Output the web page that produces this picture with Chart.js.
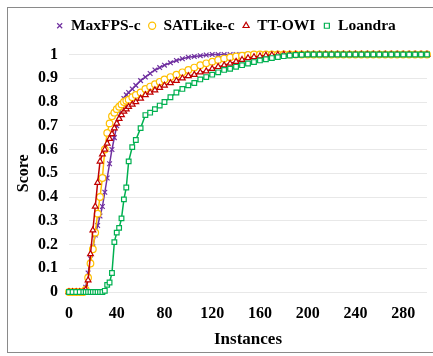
<!DOCTYPE html>
<html>
<head>
<meta charset="UTF-8">
<title>Score vs Instances</title>
<script src="https://cdn.jsdelivr.net/npm/chart.js"></script>
<style>
  body { margin: 0; background: #fff; }
  #wrap { position: relative; width: 433px; height: 356px; }
  #frame { position: absolute; left: 7px; top: 7px; width: 440px; height: 344px;
           border: 1px solid #8a8a8a; pointer-events: none; }
</style>
</head>
<body>
<div id="wrap">
  <canvas id="chart" width="433" height="356"></canvas>
  <div id="frame"></div>
</div>
<script>
const instances = [0, 3, 6, 9, 12, 14, 16, 18, 20, 22, 24, 26, 28, 30, 32, 34, 36, 38, 40, 42,
  44, 46, 48, 50, 53, 56, 60, 64, 68, 72, 76, 80, 85, 90, 95, 100, 105, 110, 115, 120,
  125, 130, 135, 140, 145, 150, 155, 160, 165, 170, 175, 180, 185, 190, 195, 200, 205, 210, 215, 220,
  225, 230, 235, 240, 245, 250, 255, 260, 265, 270, 275, 280, 285, 290, 295, 300];

const maxfps = [0, 0, 0, 0, 0, 0.02, 0.08, 0.14, 0.19, 0.24, 0.28, 0.32, 0.36, 0.42, 0.48, 0.54, 0.60, 0.65, 0.70, 0.74,
  0.79, 0.815, 0.83, 0.84, 0.855, 0.87, 0.89, 0.905, 0.92, 0.935, 0.945, 0.955, 0.965, 0.975, 0.982, 0.988, 0.992, 0.995, 0.998, 1,
  1, 1, 1, 1, 1, 1, 1, 1, 1, 1, 1, 1, 1, 1, 1, 1, 1, 1, 1, 1,
  1, 1, 1, 1, 1, 1, 1, 1, 1, 1, 1, 1, 1, 1, 1, 1];

const satlike = [0, 0, 0, 0, 0, 0.01, 0.06, 0.12, 0.18, 0.25, 0.33, 0.40, 0.48, 0.60, 0.67, 0.71, 0.74, 0.755, 0.77, 0.78,
  0.79, 0.80, 0.805, 0.81, 0.82, 0.83, 0.84, 0.855, 0.865, 0.875, 0.885, 0.895, 0.905, 0.915, 0.925, 0.935, 0.945, 0.955, 0.963, 0.97,
  0.977, 0.983, 0.988, 0.992, 0.995, 0.998, 1, 1, 1, 1, 1, 1, 1, 1, 1, 1, 1, 1, 1, 1,
  1, 1, 1, 1, 1, 1, 1, 1, 1, 1, 1, 1, 1, 1, 1, 1];

const ttowi = [0, 0, 0, 0, 0, 0.01, 0.05, 0.16, 0.26, 0.36, 0.46, 0.55, 0.58, 0.60, 0.625, 0.645, 0.665, 0.69, 0.71, 0.73,
  0.745, 0.76, 0.77, 0.78, 0.79, 0.80, 0.815, 0.83, 0.84, 0.85, 0.86, 0.87, 0.88, 0.89, 0.90, 0.91, 0.915, 0.925, 0.93, 0.94,
  0.948, 0.955, 0.962, 0.97, 0.978, 0.985, 0.99, 0.993, 0.996, 0.998, 0.999, 1, 1, 1, 1, 1, 1, 1, 1, 1,
  1, 1, 1, 1, 1, 1, 1, 1, 1, 1, 1, 1, 1, 1, 1, 1];

const loandra = [0, 0, 0, 0, 0, 0, 0, 0, 0, 0, 0, 0, 0, 0.005, 0.03, 0.04, 0.08, 0.21, 0.25, 0.27,
  0.31, 0.39, 0.44, 0.55, 0.61, 0.64, 0.69, 0.745, 0.755, 0.77, 0.785, 0.80, 0.82, 0.84, 0.855, 0.87, 0.88, 0.895, 0.905, 0.915,
  0.925, 0.935, 0.94, 0.948, 0.955, 0.962, 0.968, 0.975, 0.98, 0.985, 0.989, 0.993, 0.996, 0.998, 0.999, 1, 1, 1, 1, 1,
  1, 1, 1, 1, 1, 1, 1, 1, 1, 1, 1, 1, 1, 1, 1, 1];

const xTicks = [0, 40, 80, 120, 160, 200, 240, 280];

function pts(ys) {
  return instances.map((x, i) => ({ x: x, y: ys[i] }));
}

function series(label, ys, color, style, order) {
  return {
    label: label,
    data: pts(ys),
    borderColor: color,
    backgroundColor: style === 'crossRot' ? color : '#ffffff',
    borderWidth: 1.5,
    pointStyle: style,
    pointRadius: 3.3,
    pointBorderWidth: 1.2,
    pointBorderColor: color,
    pointBackgroundColor: '#ffffff',
    tension: 0,
    clip: false,
    order: order
  };
}

// push the plot area down a bit below the legend
const legendGap = {
  id: 'legendGap',
  beforeInit(chart) {
    const fit = chart.legend.fit;
    chart.legend.fit = function () {
      fit.call(this);
      this.height += 11;
    };
  }
};

Chart.defaults.font.family = "'Liberation Serif', 'Times New Roman', serif";
Chart.defaults.font.weight = 'bold';
Chart.defaults.color = '#000';

new Chart(document.getElementById('chart'), {
  type: 'line',
  data: {
    datasets: [
      series('MaxFPS-c', maxfps, '#7030A0', 'crossRot', 4),
      series('SATLike-c', satlike, '#FFC000', 'circle', 3),
      series('TT-OWI', ttowi, '#C00000', 'triangle', 2),
      series('Loandra', loandra, '#00B050', 'rect', 1)
    ]
  },
  plugins: [legendGap],
  options: {
    responsive: false,
    animation: false,
    layout: { padding: { top: 10, right: 6, left: 25, bottom: 4 } },
    plugins: {
      tooltip: { enabled: false },
      legend: {
        position: 'top',
        labels: {
          usePointStyle: true,
          boxWidth: 7,
          boxHeight: 5,
          padding: 8,
          font: { size: 15.5, weight: 'bold' },
          sort: (a, b) => a.datasetIndex - b.datasetIndex
        }
      }
    },
    scales: {
      x: {
        type: 'linear',
        min: 0,
        max: 300,
        afterBuildTicks: (s) => { s.ticks = xTicks.map(v => ({ value: v })); },
        afterFit: (s) => { s.height = 60; },
        grid: { display: false, drawTicks: false },
        border: { display: false },
        ticks: { padding: 12, font: { size: 16 } },
        title: { display: true, text: 'Instances', font: { size: 17 }, padding: { top: 6, bottom: 2 } }
      },
      y: {
        min: 0,
        max: 1,
        afterFit: (s) => { s.width = 44; },
        grid: { color: '#e8e8e8', drawTicks: false },
        border: { display: false },
        ticks: { stepSize: 0.1, padding: 11, font: { size: 16 }, callback: (v) => String(+v.toFixed(1)) },
        title: { display: true, text: 'Score', font: { size: 16 }, padding: { top: -11, bottom: 0 } }
      }
    }
  }
});
</script>
</body>
</html>
